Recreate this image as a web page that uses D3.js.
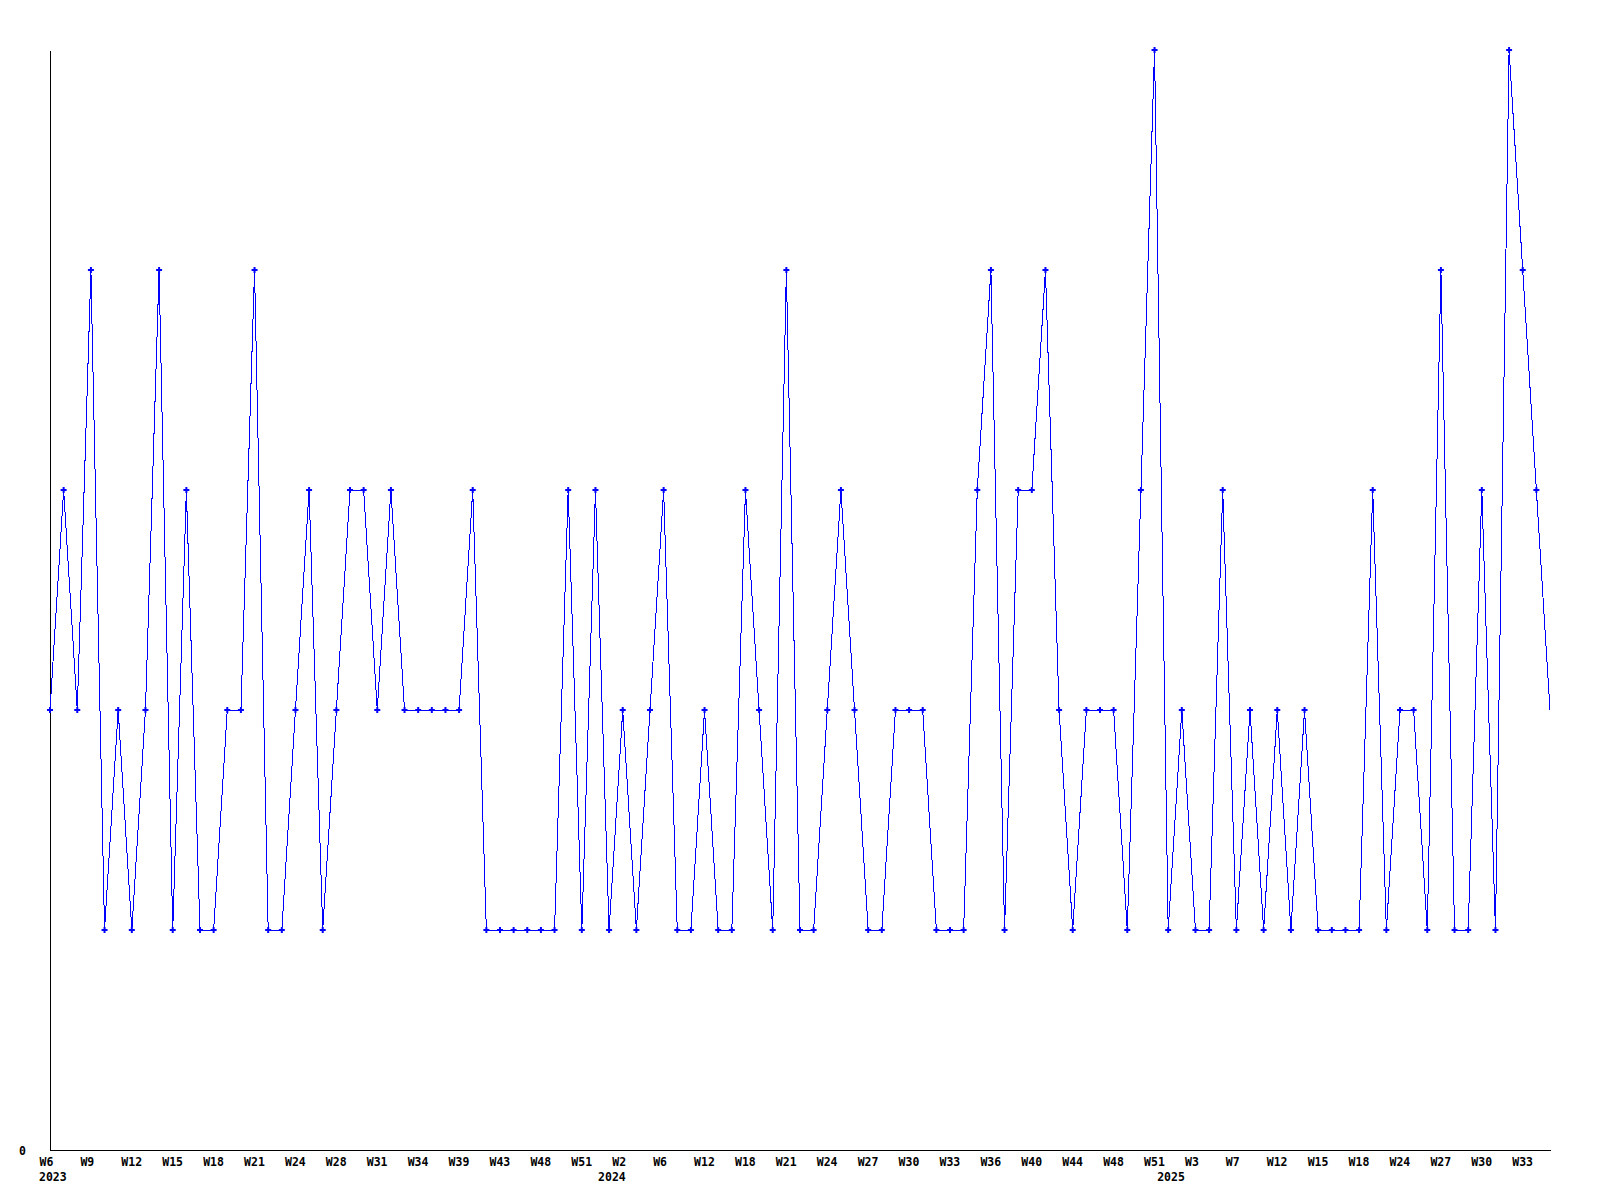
<!DOCTYPE html>
<html>
<head>
<meta charset="utf-8">
<script src="https://cdn.jsdelivr.net/npm/d3@7"></script>
<style>
  html, body { margin: 0; padding: 0; background: #fff; }
  svg { display: block; }
  .lbl text { font-family: "DejaVu Sans Mono", "Liberation Mono", monospace; font-weight: bold; font-size: 11.5px; fill: #000; }
</style>
</head>
<body>
<svg id="chart" width="1600" height="1200"></svg>
<script>
// Weekly values, one per data point (in order)
const values = [
  2,3,2,4,1,2,1,2,4,1,
  3,1,1,2,2,4,1,1,2,3,
  1,2,3,3,2,3,2,2,2,2,
  2,3,1,1,1,1,1,1,3,1,
  3,1,2,1,2,3,1,1,2,1,
  1,3,2,1,4,1,1,2,3,2,
  1,1,2,2,2,1,1,1,3,4,
  1,3,3,4,2,1,2,2,2,1,
  3,5,1,2,1,1,3,1,2,1,
  2,1,2,1,1,1,1,3,1,2,
  2,1,4,1,1,3,1,5,4,3,
  2
];
// Tick labels, shown on every 3rd point
const tickEvery = 3;
const weekTicks = [
  "W6","W9","W12","W15","W18","W21","W24","W28","W31","W34","W39","W43","W48","W51",
  "W2","W6","W12","W18","W21","W24","W27","W30","W33","W36","W40","W44","W48","W51",
  "W3","W7","W12","W15","W18","W24","W27","W30","W33"
];
// Year labels and the index of the first point of each year
const years = ["2023","2024","2025"];
const yearStart = [0, 41, 82];
const yMax = 5;

const svg = d3.select("#chart");
const x = d3.scaleLinear().domain([0, values.length - 1]).range([50, 1550]);
const y = d3.scaleLinear().domain([0, yMax]).range([1150, 50]);

// X axis
const xAxis = d3.axisBottom(x)
  .tickValues(d3.range(0, values.length, tickEvery).slice(0, weekTicks.length))
  .tickFormat((d) => weekTicks[d / tickEvery])
  .tickSize(0)
  .tickSizeOuter(0);
const gx = svg.append("g").attr("class", "lbl").attr("transform", "translate(0,1150)").call(xAxis);
gx.select(".domain").attr("stroke", "#000").attr("stroke-width", 1).attr("shape-rendering", "crispEdges");
gx.selectAll(".tick text")
  .attr("text-anchor", "start")
  .attr("x", -11)
  .attr("y", 16)
  .attr("dy", 0);

// Year labels
svg.append("g").attr("class", "lbl")
  .selectAll("text").data(years).join("text")
  .attr("x", (d, i) => x(yearStart[i]) - 11)
  .attr("y", 1181)
  .text((d) => d);

// Y axis
const yAxis = d3.axisLeft(y).tickValues([0]).tickFormat(d3.format("d")).tickSize(0).tickSizeOuter(0).tickPadding(24);
const gy = svg.append("g").attr("class", "lbl").attr("transform", "translate(50,0)").call(yAxis);
gy.select(".domain").attr("stroke", "#000").attr("stroke-width", 1).attr("shape-rendering", "crispEdges");
gy.selectAll(".tick text").attr("dy", "0.36em");

// Line
const line = d3.line().x((d, i) => x(i)).y((d) => y(d));
svg.append("path")
  .datum(values)
  .attr("d", line)
  .attr("fill", "none")
  .attr("stroke", "#0000ff")
  .attr("stroke-width", 1)
  .attr("shape-rendering", "crispEdges");

// Markers (the last, ongoing point carries none)
const sym = d3.symbol().type(d3.symbolCross).size(20);
svg.append("g")
  .selectAll("path")
  .data(values.slice(0, values.length - 1))
  .join("path")
  .attr("d", sym)
  .attr("transform", (d, i) => `translate(${x(i)},${y(d)})`)
  .attr("fill", "#0000ff");
</script>
</body>
</html>
